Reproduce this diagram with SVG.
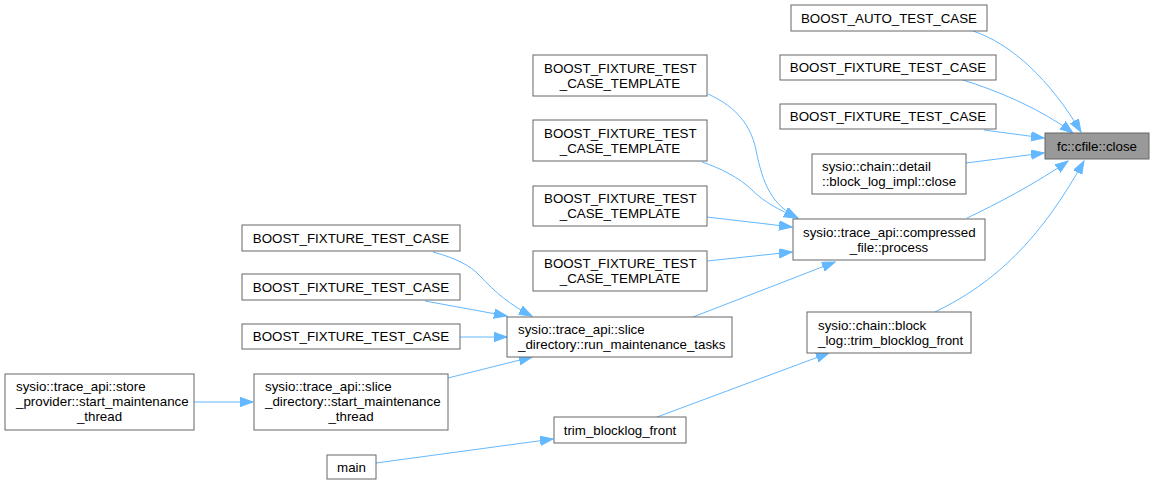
<svg xmlns="http://www.w3.org/2000/svg" width="1154" height="486" viewBox="0 0 1154 486">
<style>
.n rect{fill:#ffffff;stroke:#666666;stroke-width:1}
.n.hl rect{fill:#999999}
text{font-family:"Liberation Sans",Arial,sans-serif;font-size:13.33px;fill:#000000}
.c{text-anchor:middle}
.e path{fill:none;stroke:#63b8ff;stroke-width:1;marker-end:url(#ah)}
</style>
<defs>
<marker id="ah" markerUnits="userSpaceOnUse" markerWidth="15" markerHeight="11" refX="13" refY="4.7" orient="auto">
<path d="M0,0 L13,4.7 L0,9.4 z" fill="#63b8ff" stroke="#63b8ff" stroke-width="1"/>
</marker>
</defs>
<rect width="1154" height="486" fill="#ffffff"/>
<g id="edges" class="e">
<path d="M973,31 C1012,44 1050,80 1081,132"/>
<path d="M963,80 C995,90 1040,108 1073,133"/>
<path d="M984,130 L1044,138"/>
<path d="M966,163 L1044,153"/>
<path d="M967,218 C995,205 1040,181 1068,161"/>
<path d="M935,312 C995,283 1040,240 1084,161"/>
<path d="M708,94 C730,104 750,120 756,150 C763,185 772,205 798,218"/>
<path d="M702,162 C720,168 740,178 752,190 C765,203 780,210 797,218"/>
<path d="M707,217 L792,227"/>
<path d="M707,261 L792,252"/>
<path d="M693,317 L835,262"/>
<path d="M433,252 C455,258 470,265 480,276 C495,292 510,305 532,316"/>
<path d="M425,301 L507,316"/>
<path d="M460,337 L507,337"/>
<path d="M448,378 L532,357"/>
<path d="M194,402 L253,402"/>
<path d="M657,417 L829,353"/>
<path d="M376,463 L553,439"/>
</g>
<g id="n_cfile_close" class="n hl"><rect x="1045" y="133" width="104" height="26"/><text class="c" x="1097" y="150.5">fc::cfile::close</text></g>
<g id="n_auto" class="n"><rect x="791" y="5" width="196" height="26"/><text class="c" x="889" y="22.5">BOOST_AUTO_TEST_CASE</text></g>
<g id="n_fix_a" class="n"><rect x="780" y="55" width="216" height="25"/><text class="c" x="888" y="72">BOOST_FIXTURE_TEST_CASE</text></g>
<g id="n_fix_b" class="n"><rect x="780" y="104" width="216" height="25"/><text class="c" x="888" y="121">BOOST_FIXTURE_TEST_CASE</text></g>
<g id="n_block_log_impl" class="n"><rect x="812" y="154" width="154" height="40"/><text x="822" y="170.5">sysio::chain::detail</text><text class="c" x="889" y="185.5">::block_log_impl::close</text></g>
<g id="n_compressed" class="n"><rect x="793" y="219" width="192" height="41"/><text x="803" y="236.5">sysio::trace_api::compressed</text><text class="c" x="889" y="251.5">_file::process</text></g>
<g id="n_tpl1" class="n"><rect x="533" y="55" width="174" height="41"/><text x="544" y="72.5">BOOST_FIXTURE_TEST</text><text class="c" x="620" y="87.5">_CASE_TEMPLATE</text></g>
<g id="n_tpl2" class="n"><rect x="533" y="120" width="174" height="41"/><text x="544" y="137.5">BOOST_FIXTURE_TEST</text><text class="c" x="620" y="152.5">_CASE_TEMPLATE</text></g>
<g id="n_tpl3" class="n"><rect x="533" y="186" width="174" height="40"/><text x="544" y="203">BOOST_FIXTURE_TEST</text><text class="c" x="620" y="218">_CASE_TEMPLATE</text></g>
<g id="n_tpl4" class="n"><rect x="533" y="251" width="174" height="40"/><text x="544" y="268">BOOST_FIXTURE_TEST</text><text class="c" x="620" y="283">_CASE_TEMPLATE</text></g>
<g id="n_run_maint" class="n"><rect x="507" y="317" width="225" height="40"/><text x="518" y="333.5">sysio::trace_api::slice</text><text x="518" y="348.5">_directory::run_maintenance_tasks</text></g>
<g id="n_fix_c" class="n"><rect x="242" y="225" width="218" height="26"/><text class="c" x="351" y="242.5">BOOST_FIXTURE_TEST_CASE</text></g>
<g id="n_fix_d" class="n"><rect x="242" y="274" width="218" height="26"/><text class="c" x="351" y="291.5">BOOST_FIXTURE_TEST_CASE</text></g>
<g id="n_fix_e" class="n"><rect x="242" y="324" width="218" height="25"/><text class="c" x="351" y="341">BOOST_FIXTURE_TEST_CASE</text></g>
<g id="n_slice_start" class="n"><rect x="254" y="374" width="194" height="56"/><text x="265" y="391">sysio::trace_api::slice</text><text x="265" y="406">_directory::start_maintenance</text><text class="c" x="351" y="421">_thread</text></g>
<g id="n_store_start" class="n"><rect x="5" y="374" width="189" height="56"/><text x="16" y="391">sysio::trace_api::store</text><text x="16" y="406">_provider::start_maintenance</text><text class="c" x="99.5" y="421">_thread</text></g>
<g id="n_block_trim" class="n"><rect x="807" y="312" width="164" height="41"/><text x="818" y="329.5">sysio::chain::block</text><text x="818" y="344.5">_log::trim_blocklog_front</text></g>
<g id="n_trim_front" class="n"><rect x="554" y="417" width="132" height="26"/><text class="c" x="620" y="434.5">trim_blocklog_front</text></g>
<g id="n_main" class="n"><rect x="327" y="455" width="49" height="24"/><text class="c" x="351.5" y="471.5">main</text></g>
</svg>
